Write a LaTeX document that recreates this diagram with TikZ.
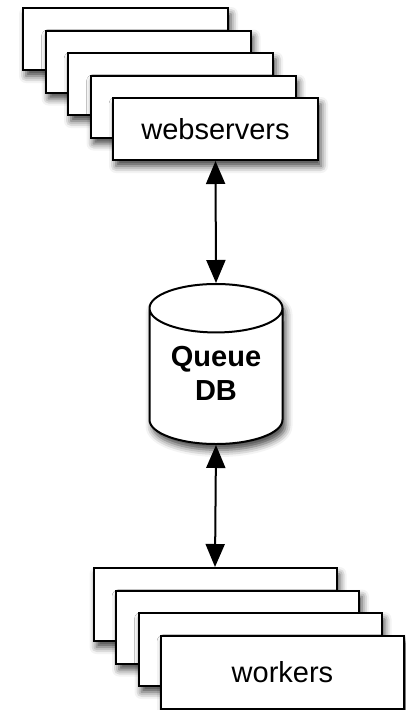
\documentclass[tikz,border=0pt]{standalone}
\usepackage{fontspec}
\setmainfont{Liberation Sans}
\usepackage{tikz}
\usetikzlibrary{shapes.geometric,arrows.meta,positioning,calc,shadows.blur}
\tikzstyle{shade} = [blur shadow={shadow xshift=3pt, shadow yshift=-6pt, shadow blur radius=7pt, shadow opacity=75}]
\tikzstyle{webbox} = [rectangle, minimum width=205pt, minimum height=62pt, draw=black, line width=2pt, fill=white, shade, font=\fontsize{29}{32}\selectfont]
\tikzstyle{workbox} = [rectangle, minimum width=243pt, minimum height=73pt, draw=black, line width=2pt, fill=white, shade, font=\fontsize{29}{32}\selectfont]
\tikzstyle{queue} = [cylinder, shape border rotate=90, aspect=0.5, minimum width=133pt, minimum height=160pt, draw=black, line width=2pt, fill=white, shade, align=center, text depth=14pt, font=\fontsize{29}{34}\selectfont\bfseries]
\tikzstyle{arrow} = [line width=2pt, {Triangle[length=23pt,width=19pt]}-{Triangle[length=23pt,width=19pt]}]

\begin{document}
\begin{tikzpicture}[x=1pt, y=-1pt]
	\useasboundingbox (0,0) rectangle (406,710);
	% webservers stack
	\node (web1) [webbox] at (125.5,39) {};
	\node (web2) [webbox] at ($(web1)+(22.5,22.5)$) {};
	\node (web3) [webbox] at ($(web2)+(22.5,22.5)$) {};
	\node (web4) [webbox] at ($(web3)+(22.5,22.5)$) {};
	\node (web5) [webbox] at ($(web4)+(22.5,22.5)$) {webservers};

	\node (db) [queue, anchor=north] at (216,283) {Queue\\DB};

	% workers stack
	\node (work1) [workbox] at (215,604.5) {};
	\node (work2) [workbox] at ($(work1)+(22.5,22.5)$) {};
	\node (work3) [workbox] at ($(work2)+(22.5,22.5)$) {};
	\node (work4) [workbox] at ($(work3)+(22.5,22.5)$) {workers};

	\draw [arrow] (web5.south) -- (db.north);
	\draw [arrow] (db.south) -- (work1.north);
\end{tikzpicture}
\end{document}
